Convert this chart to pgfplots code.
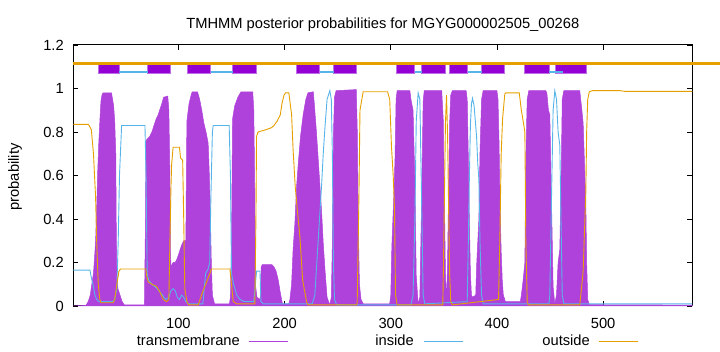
\documentclass[border=0pt]{standalone}
\usepackage{fontspec}
\setmainfont{Liberation Sans}
\usepackage{pgfplots}
\pgfplotsset{compat=1.18}
\definecolor{tmfill}{RGB}{176,66,220}
\definecolor{inblue}{RGB}{86,180,233}
\definecolor{outorange}{RGB}{230,159,0}
\definecolor{boxpurple}{RGB}{148,0,211}
\definecolor{boxedge}{RGB}{190,110,230}

\pgfplotstableread{
x y
1 0
13 0.003
15 0.02
17 0.05
19 0.12
20 0.15
21 0.22
22 0.3
23 0.45
24 0.62
25 0.75
26 0.85
27 0.94
28 0.97
29 0.98
37 0.98
38 0.95
39 0.92
40 0.85
41 0.7
41.5 0.35
42 0.15
43 0.08
45 0.05
47 0.02
49 0.005
68 0.005
69 0.4
69.5 0.76
71 0.77
73 0.78
75 0.8
77 0.83
79 0.86
81 0.88
83 0.91
85 0.94
86 0.96
90 0.965
91 0.9
92 0.6
92.5 0.25
93 0.18
95 0.2
97 0.2
99 0.22
101 0.25
103 0.28
105 0.3
107 0.3
107.5 0.6
108 0.85
110 0.93
112 0.97
113 0.985
118 0.985
120 0.95
122 0.9
124 0.84
126 0.8
128 0.75
129 0.62
130 0.45
131 0.2
132 0.05
134 0.01
148 0.01
149 0.04
150 0.3
151 0.86
153 0.92
156 0.96
159 0.985
170 0.985
171 0.9
172 0.5
172.5 0.1
174 0.04
177 0.03
178 0.18
179 0.19
188 0.19
190 0.18
192 0.16
194 0.12
196 0.06
198 0.01
204 0.01
205 0.03
206.6 0.1
208 0.26
209.7 0.38
211.3 0.55
212.8 0.65
215 0.78
217.5 0.88
220 0.95
222 0.98
227 0.985
228 0.93
230 0.8
231.6 0.68
234.8 0.44
236.4 0.29
238 0.17
240 0.04
242.6 0.005
244 0.04
245 0.29
246 0.79
247 0.96
248.5 0.99
267.5 0.995
268.5 0.8
269.5 0.35
270.5 0.1
272 0.03
274 0.01
299 0.01
300 0.05
301 0.27
302 0.4
303 0.52
304 0.68
305 0.95
306 0.99
318 0.99
319 0.95
321 0.9
322.7 0.58
324 0.14
325.8 0.01
327.4 0.04
329 0.48
330.5 0.94
331.5 0.99
348 0.99
349.5 0.85
350.5 0.5
351.5 0.15
352.5 0.02
353.5 0.2
354.5 0.55
355.5 0.85
356.5 0.97
358 0.99
371 0.99
372 0.95
373 0.7
374 0.4
375 0.15
376 0.05
377 0.04
380 0.05
381 0.2
383 0.4
384 0.7
385.5 0.95
387 0.99
400 0.99
401 0.95
402 0.75
403 0.45
404 0.25
405 0.12
406 0.05
408 0.02
422 0.02
423 0.05
424.7 0.12
426.3 0.2
427.2 0.68
428.5 0.95
430 0.99
446 0.99
447 0.98
448.5 0.9
449.8 0.88
451.4 0.48
452.9 0.09
454.5 0.01
456.1 0.05
457.6 0.2
459.2 0.26
460.5 0.6
461.5 0.95
463 0.99
478 0.99
480 0.9
481.2 0.84
482.5 0.65
483.7 0.48
484.5 0.2
485.5 0.03
487 0.006
584 0.004
}\tmtable

\pgfplotstableread{
x y
1 0.165
16.7 0.165
18 0.13
19.5 0.1
21.4 0.05
23 0.03
25 0.02
38 0.02
40 0.03
42 0.08
43.3 0.3
44.5 0.6
46.5 0.83
68.5 0.83
69.5 0.6
70.6 0.15
72 0.12
75 0.1
80 0.08
85 0.05
88 0.03
91 0.04
93 0.07
95 0.08
97 0.07
99 0.04
101 0.03
103 0.05
105 0.04
107 0.02
109 0.01
123 0.01
125.6 0.15
128 0.17
129.5 0.2
130.6 0.5
132 0.8
132.8 0.83
147.8 0.83
149 0.6
150 0.15
152 0.1
155 0.05
158 0.03
162 0.02
171 0.02
172.5 0.1
173.6 0.16
176.8 0.16
177.7 0.02
180 0.01
226 0.01
228.5 0.05
231.6 0.3
234.8 0.55
236.4 0.7
238 0.82
240 0.95
242.6 0.99
244 0.95
245 0.7
246 0.2
247 0.03
249 0.005
319 0.005
321 0.05
322.7 0.4
324 0.85
325.8 0.98
327.4 0.95
329 0.5
330.5 0.05
332 0.01
372 0.02
373 0.28
374 0.58
375 0.83
376 0.93
377 0.955
378.5 0.92
380.8 0.78
382 0.65
383 0.58
384 0.3
385.5 0.05
387 0.01
449 0.01
449.8 0.05
451.4 0.5
452.9 0.9
454.5 0.99
456.1 0.95
457.6 0.8
459.2 0.74
460.5 0.35
461.5 0.05
463 0.01
584 0.01
}\intable

\pgfplotstableread{
x y
1 0.835
15 0.835
16 0.83
18 0.81
20 0.7
21 0.6
22 0.5
23 0.3
24.5 0.1
26 0.03
27 0.015
38.6 0.015
40 0.03
42 0.1
44 0.16
45.5 0.17
69.4 0.17
70 0.14
71.6 0.11
75 0.1
79.5 0.09
83 0.06
85.7 0.03
88.9 0.02
91 0.03
92 0.3
93 0.55
93.6 0.65
95 0.73
101 0.73
102 0.68
104 0.67
105 0.4
106 0.08
108 0.02
109.5 0.005
118.6 0.005
121.8 0.05
124 0.08
126.5 0.11
129.7 0.15
131 0.17
148.5 0.17
150 0.1
151.6 0.02
155 0.01
172 0.01
173 0.4
173.6 0.78
175 0.8
182 0.81
187.8 0.82
190 0.83
193 0.85
196 0.88
197.5 0.93
199.5 0.97
201 0.98
204 0.98
206.6 0.88
208 0.72
210 0.55
212 0.44
214.4 0.32
217 0.12
220.7 0.02
222 0.005
268 0.005
268.4 0.02
270 0.5
271 0.9
274 0.985
297 0.985
299 0.95
300.7 0.73
302.3 0.6
303.5 0.45
304.5 0.05
306 0.005
349 0.005
349.5 0.14
350.5 0.49
351.5 0.84
352.5 0.97
353.5 0.79
354.5 0.44
355.5 0.14
356.5 0.02
358 0.005
401.5 0.03
402.7 0.3
404 0.7
405.3 0.86
407.4 0.975
408.5 0.98
421 0.98
423 0.9
424.7 0.85
426.3 0.8
427.2 0.3
428.5 0.02
429.5 0.005
478 0.005
480 0.1
481.2 0.16
482.5 0.35
483.7 0.52
484.5 0.8
485.5 0.95
487 0.985
490 0.99
516 0.99
520 0.987
584 0.987
}\outtable

\begin{document}
\fontsize{14.7}{17}\selectfont
\begin{tikzpicture}[x=1pt,y=1pt]
\path[use as bounding box] (0,0) rectangle (720,352);
\begin{axis}[
  at={(73.3pt,46pt)}, anchor=south west,
  scale only axis, width=619pt, height=261pt,
  xmin=1, xmax=584, ymin=0, ymax=1.2,
  xtick={100,200,300,400,500},
  ytick={0,0.2,0.4,0.6,0.8,1,1.2},
  yticklabels={0,0.2,0.4,0.6,0.8,1,1.2},
  tick align=inside, major tick length=5pt,
  tick style={black, line width=0.6pt},
  axis line style={black, line width=1pt},
  ticklabel style={font=\fontsize{14.7}{17}\selectfont},
  /pgf/number format/assume math mode=true,
  xticklabel style={yshift=-7pt},
  yticklabel style={xshift=-4.5pt},
  clip=false,
]
\addplot[fill=tmfill, draw=tmfill, line width=0.5pt] table[x=x,y=y] {\tmtable} \closedcycle;
\addplot[inblue, line width=0.9pt] table[x=x,y=y] {\intable};
\addplot[outorange, line width=0.9pt] table[x=x,y=y] {\outtable};
% topology boxes (transmembrane helices)
\addplot[fill=boxpurple, draw=boxedge, line width=0.8pt] coordinates {(25.1,1.07) (44.3,1.07) (44.3,1.118) (25.1,1.118)} -- cycle;
\addplot[fill=boxpurple, draw=boxedge, line width=0.8pt] coordinates {(71.0,1.07) (92.9,1.07) (92.9,1.118) (71.0,1.118)} -- cycle;
\addplot[fill=boxpurple, draw=boxedge, line width=0.8pt] coordinates {(108.3,1.07) (130.3,1.07) (130.3,1.118) (108.3,1.118)} -- cycle;
\addplot[fill=boxpurple, draw=boxedge, line width=0.8pt] coordinates {(151.0,1.07) (173.0,1.07) (173.0,1.118) (151.0,1.118)} -- cycle;
\addplot[fill=boxpurple, draw=boxedge, line width=0.8pt] coordinates {(210.9,1.07) (233.2,1.07) (233.2,1.118) (210.9,1.118)} -- cycle;
\addplot[fill=boxpurple, draw=boxedge, line width=0.8pt] coordinates {(246.1,1.07) (268.1,1.07) (268.1,1.118) (246.1,1.118)} -- cycle;
\addplot[fill=boxpurple, draw=boxedge, line width=0.8pt] coordinates {(305.1,1.07) (322.4,1.07) (322.4,1.118) (305.1,1.118)} -- cycle;
\addplot[fill=boxpurple, draw=boxedge, line width=0.8pt] coordinates {(329.3,1.07) (351.2,1.07) (351.2,1.118) (329.3,1.118)} -- cycle;
\addplot[fill=boxpurple, draw=boxedge, line width=0.8pt] coordinates {(355.0,1.07) (372.3,1.07) (372.3,1.118) (355.0,1.118)} -- cycle;
\addplot[fill=boxpurple, draw=boxedge, line width=0.8pt] coordinates {(385.5,1.07) (407.4,1.07) (407.4,1.118) (385.5,1.118)} -- cycle;
\addplot[fill=boxpurple, draw=boxedge, line width=0.8pt] coordinates {(426.3,1.07) (449.2,1.07) (449.2,1.118) (426.3,1.118)} -- cycle;
\addplot[fill=boxpurple, draw=boxedge, line width=0.8pt] coordinates {(455.2,1.07) (484.4,1.07) (484.4,1.118) (455.2,1.118)} -- cycle;
% inside segments
\addplot[inblue, line width=2pt] coordinates {(44.3,1.075) (71.0,1.075)};
\addplot[inblue, line width=2pt] coordinates {(130.3,1.075) (151.0,1.075)};
\addplot[inblue, line width=2pt] coordinates {(233.2,1.075) (246.1,1.075)};
\addplot[inblue, line width=2pt] coordinates {(322.4,1.075) (329.3,1.075)};
\addplot[inblue, line width=2pt] coordinates {(372.3,1.075) (385.5,1.075)};
\addplot[inblue, line width=2pt] coordinates {(449.2,1.075) (462.0,1.075)};
% outside line
\addplot[outorange, line width=3.2pt] coordinates {(1,1.114) (610,1.114)};
\end{axis}
\node[anchor=base] at (382.8,323) {TMHMM posterior probabilities for MGYG000002505\_00268};
\node[rotate=90, anchor=center] at (15,175) {probability};
\node[anchor=base east, inner sep=0pt] at (240,6.3) {transmembrane};
\draw[tmfill, line width=1pt] (249,10.3) -- (288,10.3);
\node[anchor=base east, inner sep=0pt] at (414,6.3) {inside};
\draw[inblue, line width=1pt] (423.6,10.3) -- (463,10.3);
\node[anchor=base east, inner sep=0pt] at (590,6.3) {outside};
\draw[outorange, line width=1pt] (599,10.3) -- (638,10.3);
\end{tikzpicture}
\end{document}
